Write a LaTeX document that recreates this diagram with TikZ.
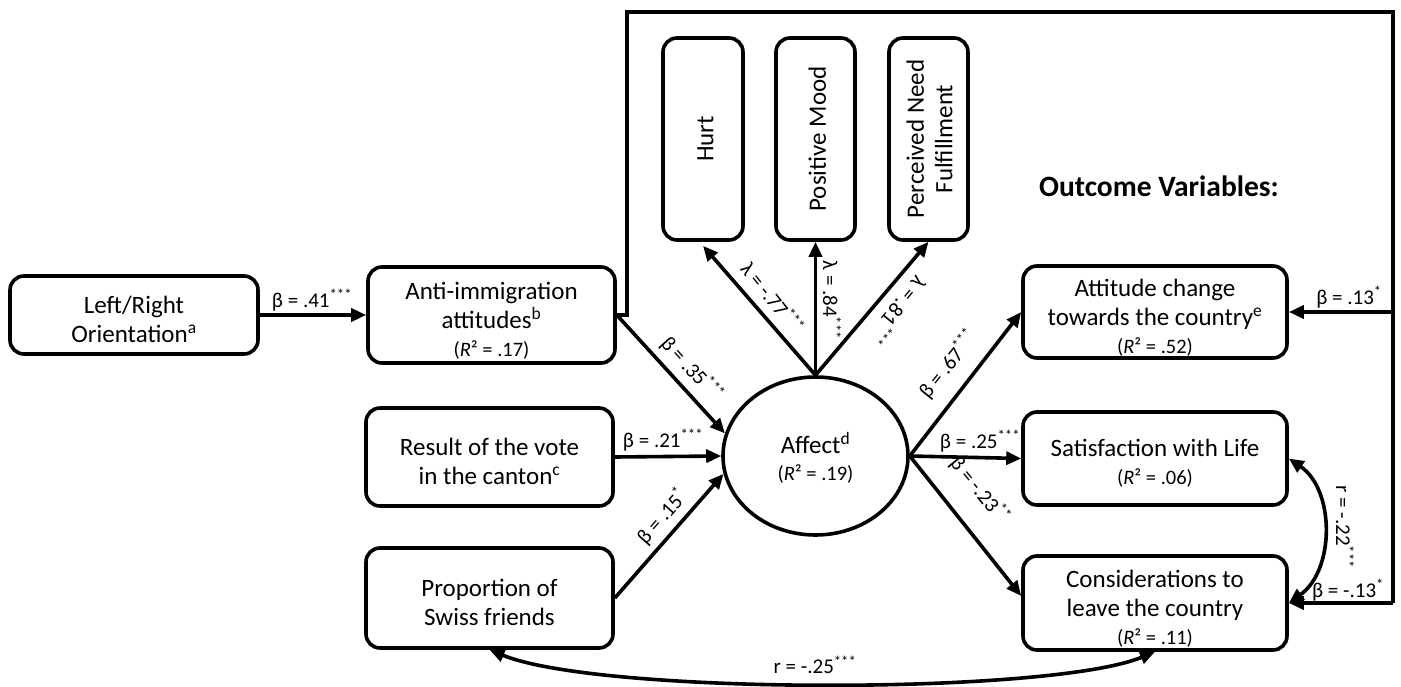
\documentclass[tikz,border=0pt]{standalone}
\usepackage{fontspec}
\setmainfont{Carlito}
\usetikzlibrary{arrows.meta,shapes.geometric}
\newcommand\bxfont{\fontsize{25}{28.5}\selectfont}
\newcommand\rsqfont{\fontsize{20.5}{24}\selectfont}
\newcommand\lblfont{\fontsize{21}{24}\selectfont}
\newcommand\hdfont{\fontsize{29.5}{32}\selectfont\bfseries}
\newcommand\rsq[1]{{\rsqfont(\textit{R}² = #1)}}
\newcommand\stars[1]{\textsuperscript{#1}}
\begin{document}
\begin{tikzpicture}[x=1pt,y=-1pt,
  box/.style={draw, line width=3.6pt, rounded corners=14pt, inner sep=0pt, align=center, font=\bxfont},
  twoline/.style={text height=55pt},
  threeline/.style={text height=86pt},
  oneline/.style={text height=21pt},
  ln/.style={line width=3.6pt, line join=miter},
  arr/.style={line width=3.6pt, -{Triangle[length=15pt,width=13pt]}},
  dblarr/.style={line width=3.6pt, {Triangle[length=15pt,width=13pt]}-{Triangle[length=15pt,width=13pt]}},
  lbl/.style={font=\lblfont, inner sep=0pt}]
\useasboundingbox (0,0) rectangle (1401,687);

% boxes
\node[box, twoline, minimum width=248pt, minimum height=78pt] (lr) at (134,315) {Left/Right\\Orientation\textsuperscript{a}};
\node[box, threeline, minimum width=247pt, minimum height=96pt] (anti) at (491.5,315) {Anti-immigration\\attitudes\textsuperscript{b}\\\rsq{.17}};
\node[box, twoline, minimum width=247pt, minimum height=98pt] (vote) at (489.5,457) {Result of the vote\\in the canton\textsuperscript{c}};
\node[box, twoline, minimum width=247pt, minimum height=100pt] (prop) at (489.5,598) {Proportion of\\Swiss friends};
\node[box, oneline, rotate=90, minimum width=202pt, minimum height=80pt] (hurt) at (703,139) {Hurt};
\node[box, oneline, rotate=90, minimum width=202pt, minimum height=79pt] (pos) at (815.5,139) {Positive Mood};
\node[box, rotate=90, text height=48pt, minimum width=202pt, minimum height=79pt] (perc) at (928.5,139) {Perceived Need\\Fulfillment};
\node[draw, ellipse, line width=3.6pt, minimum width=185pt, minimum height=158pt, inner sep=0pt, align=center, font=\bxfont, text height=51pt] (aff) at (815.5,456) {Affect\textsuperscript{d}\\[-1.5pt]\rsq{.19}};
\node[box, threeline, minimum width=264pt, minimum height=92pt] (att) at (1155,312) {Attitude change\\towards the country\textsuperscript{e}\\\rsq{.52}};
\node[box, twoline, minimum width=264pt, minimum height=93pt] (sat) at (1155,458.5) {Satisfaction with Life\\\rsq{.06}};
\node[box, threeline, minimum width=264pt, minimum height=94pt] (cons) at (1155,603) {Considerations to\\leave the country\\\rsq{.11}};
\node[font=\hdfont, inner sep=0pt] (outc) at (1159,186) {Outcome Variables:};

% feedback path
\coordinate (fbA) at (627,12);
\coordinate (fbB) at (1393,12);
\coordinate (fbC) at (1393,603);
\coordinate (fbD) at (1393,312);
\draw[ln] (anti.east) -| (fbA) -- (fbB) -- (fbC);
\draw[arr] (fbD) -- (att.east);
\draw[arr] (fbC) -- (cons.east);

% paths
\draw[arr] (lr.east) -- (anti.west);
\draw[arr] (anti.east) -- (aff.166);
\draw[arr] (vote.east) -- (aff.west);
\draw[arr] (prop.east) -- (aff.191);
\draw[arr] (aff.north) -- ([yshift=-4pt]hurt.west);
\draw[arr] (aff.north) -- (pos.west);
\draw[arr] (aff.north) -- (perc.west);
\draw[arr] (aff.east) -- (att.west);
\draw[arr] (aff.east) -- (sat.west);
\draw[arr] (aff.east) -- (cons.177);
\draw[dblarr] (sat.east) .. controls (1335,490) and (1335,570) .. (cons.east);
\draw[dblarr] (prop.south) .. controls (600,695) and (1050,695) .. (cons.south);

% labels
\node[lbl] (l41) at (312,300) {β = .41\stars{***}};
\node[lbl, rotate=-47.8] (l35) at (692,369) {β = .35\stars{***}};
\node[lbl] (l21) at (663,440) {β = .21\stars{***}};
\node[lbl, rotate=48.7] (l15) at (662,516) {β = .15\stars{*}};
\node[lbl, rotate=-51.7] (l77) at (773,297) {λ = -.77\stars{***}};
\node[lbl, rotate=-90] (l84) at (832,300) {λ = .84\stars{***}};
\node[lbl, rotate=-129.5] (l81) at (898,311) {λ = .81\stars{***}};
\node[lbl, rotate=51] (l67) at (948,364) {β = .67\stars{***}};
\node[lbl] (l25) at (980,441) {β = .25\stars{***}};
\node[lbl, rotate=-50.7] (l23) at (980,490) {β = -.23\stars{**}};
\node[lbl] (l13a) at (1349,297) {β = .13\stars{*}};
\node[lbl] (l13b) at (1348,590) {β = -.13\stars{*}};
\node[lbl, rotate=-90] (l22) at (1345,527) {r = -.22\stars{***}};
\node[lbl] (l25r) at (815,665) {r = -.25\stars{***}};
\end{tikzpicture}
\end{document}
